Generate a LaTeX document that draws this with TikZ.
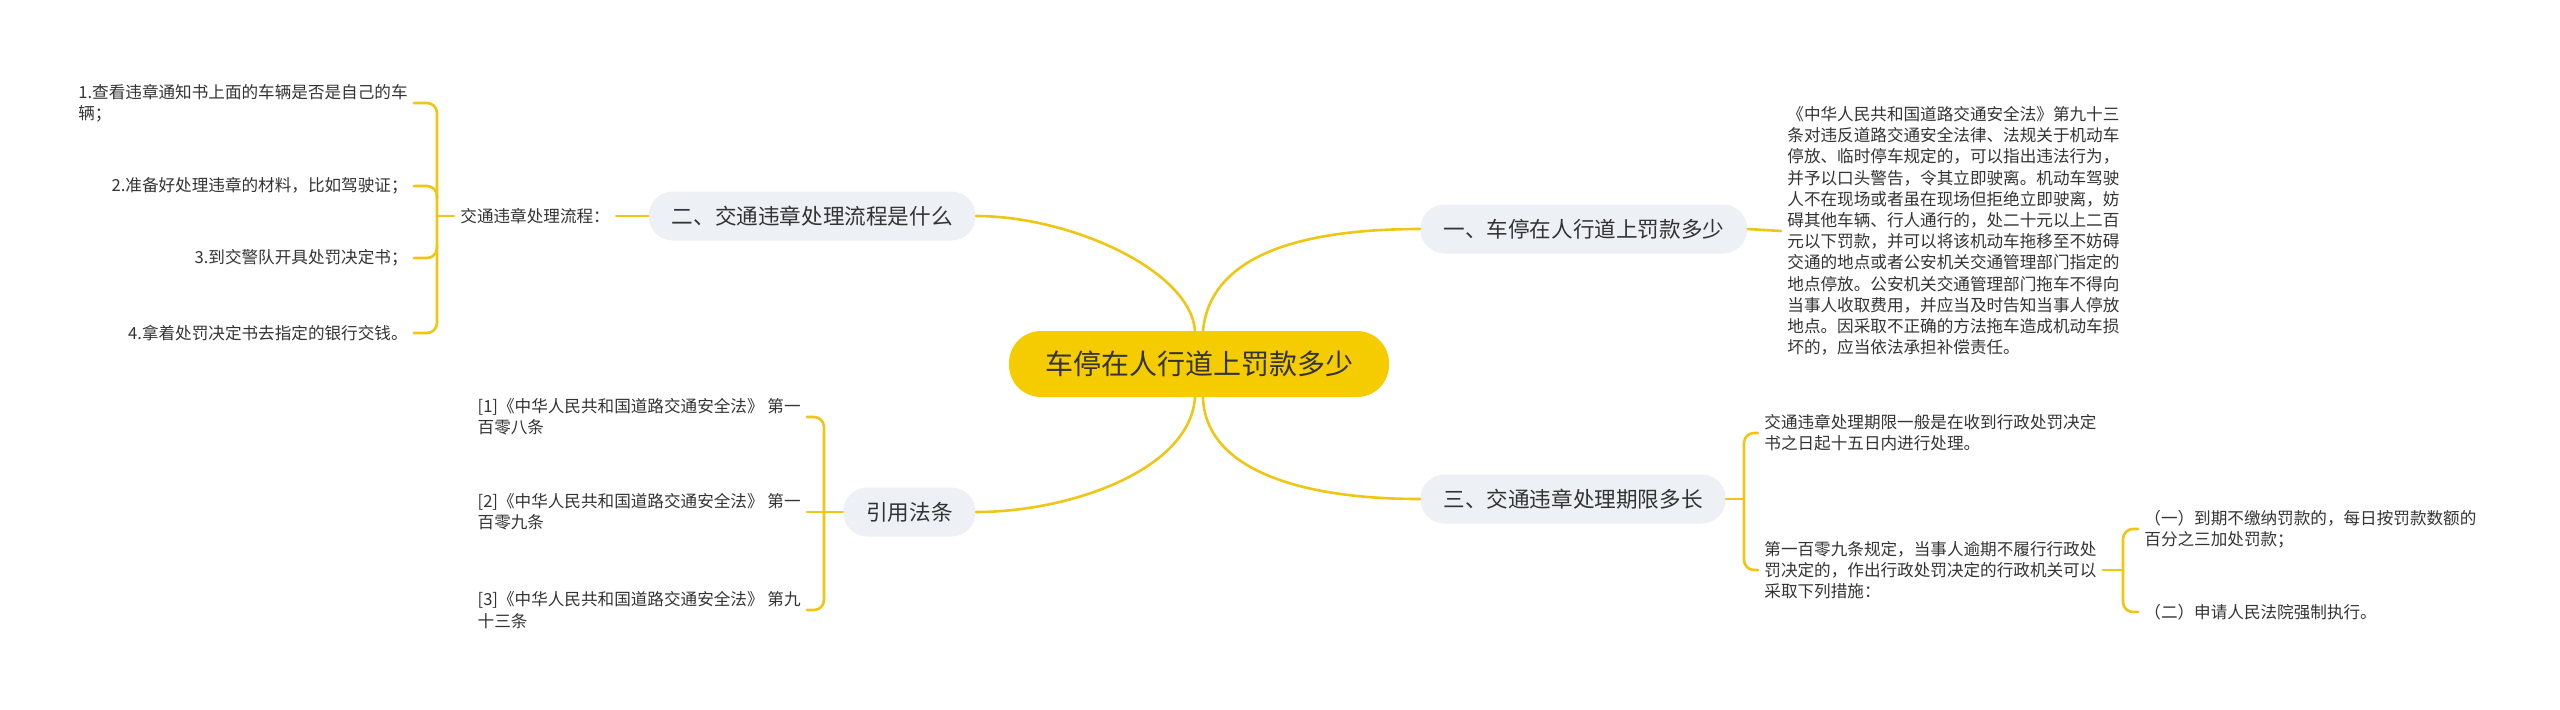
\documentclass[tikz,border=0pt]{standalone}
\usepackage{fontspec}
\setmainfont{Noto Sans CJK SC}
\usepackage{tikz}
\definecolor{rootyellow}{RGB}{245,204,0}
\definecolor{linkyellow}{RGB}{240,198,20}
\definecolor{topicgray}{RGB}{237,240,244}
\definecolor{textgray}{RGB}{51,51,51}

\begin{document}
\begin{tikzpicture}[line cap=round,line join=round,x=0.5pt,y=-0.5pt,
  root/.style={fill=rootyellow,rounded corners=16pt,minimum height=33pt,inner xsep=18pt,text=textgray,font=\fontsize{14}{17}\selectfont},
  topic/.style={fill=topicgray,rounded corners=12pt,minimum height=24.5pt,inner xsep=11.5pt,text=textgray,font=\fontsize{10.8}{13}\selectfont},
  leaf/.style={inner xsep=3pt,inner ysep=2pt,align=left,text=textgray,font=\fontsize{8.3}{10.6}\selectfont},
  link/.style={draw=linkyellow,line width=1.3pt}]
\useasboundingbox (0,0) rectangle (2560,709);

\node[root] (root) at (1199,364) {车停在人行道上罚款多少};

\node[topic,anchor=west] (b1) at (1420,229) {一、车停在人行道上罚款多少};
\node[topic,anchor=east] (b2) at (976,216) {二、交通违章处理流程是什么};
\node[topic,anchor=west] (b3) at (1420,499) {三、交通违章处理期限多长};
\node[topic,anchor=east] (b4) at (976,512) {引用法条};

\node[leaf,anchor=west] (t1) at (1781,231) {《中华人民共和国道路交通安全法》第九十三\\
条对违反道路交通安全法律、法规关于机动车\\
停放、临时停车规定的，可以指出违法行为，\\
并予以口头警告，令其立即驶离。机动车驾驶\\
人不在现场或者虽在现场但拒绝立即驶离，妨\\
碍其他车辆、行人通行的，处二十元以上二百\\
元以下罚款，并可以将该机动车拖移至不妨碍\\
交通的地点或者公安机关交通管理部门指定的\\
地点停放。公安机关交通管理部门拖车不得向\\
当事人收取费用，并应当及时告知当事人停放\\
地点。因采取不正确的方法拖车造成机动车损\\
坏的，应当依法承担补偿责任。};

\node[leaf,anchor=west] (hub) at (454,216) {交通违章处理流程：};
\node[leaf,anchor=east] (i1) at (414,103) {1.查看违章通知书上面的车辆是否是自己的车\\辆；};
\node[leaf,anchor=east] (i2) at (414,186) {2.准备好处理违章的材料，比如驾驶证；};
\node[leaf,anchor=east] (i3) at (414,258) {3.到交警队开具处罚决定书；};
\node[leaf,anchor=east] (i4) at (414,333) {4.拿着处罚决定书去指定的银行交钱。};
\coordinate (s2) at (437,216);

\node[leaf,anchor=east] (r1) at (807,417) {[1]《中华人民共和国道路交通安全法》 第一\\百零八条};
\node[leaf,anchor=east] (r2) at (807,512) {[2]《中华人民共和国道路交通安全法》 第一\\百零九条};
\node[leaf,anchor=east] (r3) at (807,610) {[3]《中华人民共和国道路交通安全法》 第九\\十三条};
\coordinate (s4) at (824,512);

\node[leaf,anchor=west] (c1) at (1758,433) {交通违章处理期限一般是在收到行政处罚决定\\书之日起十五日内进行处理。};
\node[leaf,anchor=west] (c2) at (1758,570) {第一百零九条规定，当事人逾期不履行行政处\\罚决定的，作出行政处罚决定的行政机关可以\\采取下列措施：};
\coordinate (s3) at (1744,499);

\node[leaf,anchor=west] (d1) at (2138,529) {（一）到期不缴纳罚款的，每日按罚款数额的\\百分之三加处罚款；};
\node[leaf,anchor=west] (d2) at (2138,612) {（二）申请人民法院强制执行。};
\coordinate (s5) at (2123,570);

\draw[link] ([xshift=2pt]root.north) .. controls (1210,260) and (1290,229) .. (b1.west);
\draw[link] ([xshift=-2pt]root.north) .. controls (1190,270) and (1070,216) .. (b2.east);
\draw[link] ([xshift=2pt]root.south) .. controls (1205,465) and (1290,499) .. (b3.west);
\draw[link] ([xshift=-2pt]root.south) .. controls (1190,470) and (1070,512) .. (b4.east);

\draw[link] (b1.east) -- (t1.west);

\draw[link] (b2.west) -- (hub.east);
\draw[link] (hub.west) -- (s2);
\draw[link,rounded corners=5pt] (i1.east) -| (s2) |- (i4.east);
\draw[link,rounded corners=5pt] (i2.east) -| ++(23,12);
\draw[link,rounded corners=5pt] (i3.east) -| ++(23,-12);

\draw[link,rounded corners=5pt] (r1.east) -| (s4) |- (r3.east);
\draw[link] (r2.east) -- (b4.west);

\draw[link] (b3.east) -- (s3);
\draw[link,rounded corners=5pt] (c1.west) -| (s3) |- (c2.west);

\draw[link] (c2.east) -- (s5);
\draw[link,rounded corners=5pt] (d1.west) -| (s5) |- (d2.west);

\end{tikzpicture}
\end{document}
